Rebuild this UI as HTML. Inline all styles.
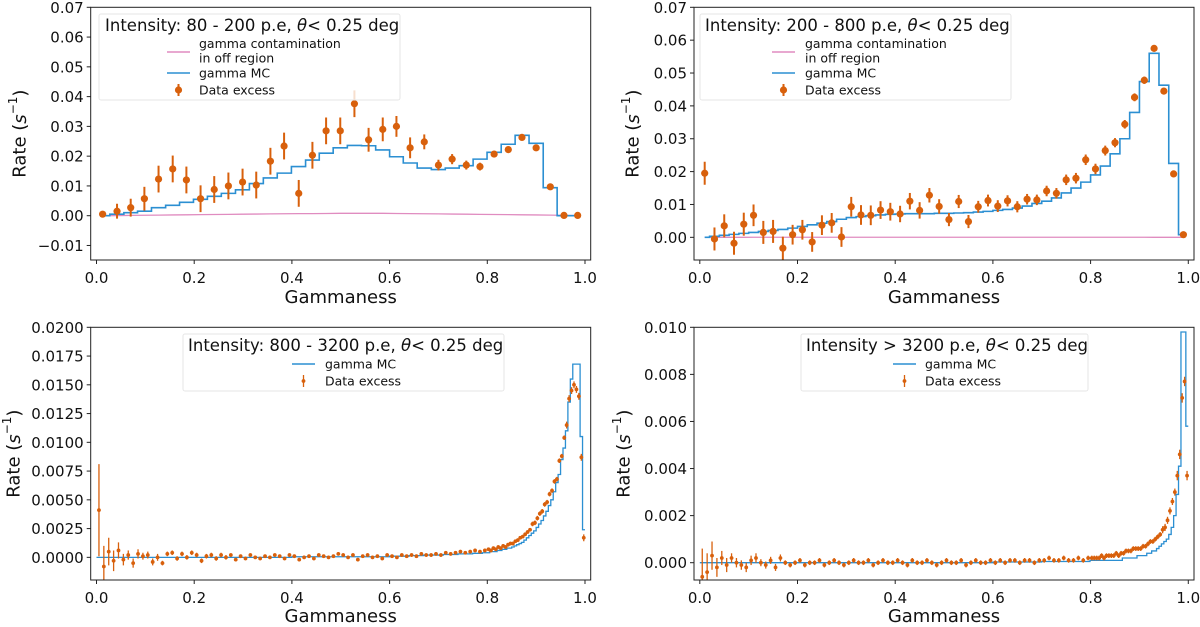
<!DOCTYPE html>
<html><head><meta charset="utf-8"><title>Gammaness distributions</title>
<style>
html,body{margin:0;padding:0;background:#fff;}
svg{display:block;font-family:"DejaVu Sans","Liberation Sans",sans-serif;}
</style></head>
<body>
<svg id="fig" width="1200" height="627" viewBox="0 0 1200 627" xmlns="http://www.w3.org/2000/svg"></svg>
<script>
// ---------- Panel 1 data (80-200 p.e) ----------
const p1X   = [0.0125,0.042,0.07,0.098,0.127,0.156,0.184,0.213,0.241,0.27,0.299,0.327,0.356,0.384,0.414,0.442,0.47,0.499,0.528,0.557,0.586,0.614,0.642,0.671,0.7,0.728,0.757,0.785,0.814,0.843,0.871,0.9,0.929,0.957,0.985];
const p1Rate= [0.0005,0.0015,0.0027,0.0057,0.0123,0.0157,0.012,0.0057,0.0088,0.010,0.0113,0.0103,0.0183,0.0234,0.0075,0.0203,0.0285,0.0285,0.0376,0.0255,0.029,0.030,0.0228,0.0248,0.017,0.019,0.017,0.0165,0.0207,0.0222,0.0263,0.0228,0.0097,0.0001,0.0001];
const p1Err = [0.0005,0.0025,0.003,0.004,0.0045,0.0045,0.0045,0.0045,0.0045,0.0045,0.0045,0.0045,0.0045,0.0045,0.0045,0.0045,0.0045,0.0045,0.0045,0.004,0.004,0.0035,0.0035,0.0025,0.0018,0.0017,0.0015,0.0013,0.001,0.0008,0.0007,0.0006,0.0005,0.0003,0.0003];
const p1MC  = [0.0,0.0005,0.001,0.0015,0.0027,0.0035,0.0045,0.0055,0.0065,0.0075,0.0087,0.0108,0.0127,0.0143,0.0165,0.0187,0.021,0.0228,0.0236,0.0235,0.0221,0.0198,0.0177,0.016,0.0155,0.016,0.0168,0.019,0.0213,0.024,0.027,0.0243,0.0094,0.0,0.0];
const p1Off = [0,0.00005,0.0001,0.00015,0.0002,0.00025,0.0003,0.00035,0.0004,0.00045,0.0005,0.00055,0.0006,0.00065,0.0007,0.0007,0.00075,0.0008,0.0008,0.0008,0.0008,0.00075,0.0007,0.00065,0.0006,0.00055,0.0005,0.00045,0.0004,0.00035,0.0003,0.00025,0.0002,0.0001,0.00005];
const p1YTicks = [-0.01,0,0.01,0.02,0.03,0.04,0.05,0.06,0.07];
const p1YLabels = ["\u22120.01","0.00","0.01","0.02","0.03","0.04","0.05","0.06","0.07"];

// ---------- Panel 2 data (200-800 p.e) ----------
const p2X   = [0.01,0.03,0.05,0.07,0.09,0.11,0.13,0.15,0.17,0.19,0.21,0.23,0.25,0.27,0.29,0.31,0.33,0.35,0.37,0.39,0.41,0.43,0.45,0.47,0.49,0.51,0.53,0.55,0.57,0.59,0.61,0.63,0.65,0.67,0.69,0.71,0.73,0.75,0.77,0.79,0.81,0.83,0.85,0.87,0.89,0.91,0.93,0.95,0.97,0.99];
const p2Rate= [0.0195,-0.0005,0.0035,-0.0018,0.004,0.0067,0.0015,0.0018,-0.0033,0.0008,0.0023,-0.0014,0.0037,0.0044,0.0001,0.0093,0.0068,0.0067,0.0083,0.0078,0.0071,0.011,0.0082,0.0128,0.0094,0.0054,0.0109,0.0048,0.0093,0.0112,0.0095,0.0111,0.0093,0.0116,0.0114,0.0141,0.0134,0.0175,0.018,0.0236,0.0208,0.0264,0.0288,0.0344,0.0426,0.0478,0.0575,0.0445,0.0193,0.0008];
const p2Err = [0.0035,0.0035,0.0035,0.0035,0.0035,0.0033,0.0035,0.0035,0.0035,0.003,0.003,0.003,0.003,0.003,0.003,0.003,0.003,0.003,0.0027,0.0027,0.0025,0.0025,0.0025,0.0022,0.0022,0.002,0.002,0.002,0.0018,0.0018,0.0018,0.0017,0.0017,0.0016,0.0016,0.0016,0.0016,0.0016,0.0016,0.0016,0.0016,0.0015,0.0014,0.0013,0.0012,0.0011,0.0009,0.0008,0.0005,0.0003];
const p2MC  = [0.0,0.0003,0.0006,0.0009,0.0012,0.0015,0.0018,0.0021,0.0024,0.0028,0.0033,0.0038,0.0043,0.0048,0.0055,0.006,0.0063,0.0066,0.0068,0.007,0.0071,0.0072,0.0072,0.0072,0.0073,0.0073,0.0074,0.0075,0.0077,0.0079,0.0082,0.0085,0.0089,0.0095,0.0103,0.011,0.012,0.0135,0.015,0.0168,0.019,0.0217,0.0254,0.03,0.038,0.0474,0.056,0.0463,0.0225,0.0008];
const p2Off = [0,0,0,0,0,0.00002,0.00002,0.00002,0.00002,0.00002,0.00003,0.00003,0.00003,0.00003,0.00003,0.00003,0.00003,0.00003,0.00003,0.00003,0.00003,0.00003,0.00003,0.00003,0.00003,0.00003,0.00003,0.00003,0.00003,0.00003,0.00003,0.00003,0.00003,0.00003,0.00003,0.00003,0.00003,0.00003,0.00003,0.00003,0.00002,0.00002,0.00002,0.00002,0.00002,0.00002,0.00001,0.00001,0,0];
const p2YTicks = [0,0.01,0.02,0.03,0.04,0.05,0.06,0.07];
const p2YLabels = ["0.00","0.01","0.02","0.03","0.04","0.05","0.06","0.07"];

// ---------- Panel 3 data (800-3200 p.e), rates in units of 1e-4 s^-1 ----------
const p3X = [0.005,0.015,0.025,0.035,0.045,0.055,0.065,0.075,0.085,0.095,0.105,0.115,0.125,0.135,0.145,0.155,0.165,0.175,0.185,0.195,0.205,0.215,0.225,0.235,0.245,0.255,0.265,0.275,0.285,0.295,0.305,0.315,0.325,0.335,0.345,0.355,0.365,0.375,0.385,0.395,0.405,0.415,0.425,0.435,0.445,0.455,0.465,0.475,0.485,0.495,0.505,0.515,0.525,0.535,0.545,0.555,0.565,0.575,0.585,0.595,0.605,0.615,0.625,0.635,0.645,0.655,0.665,0.675,0.685,0.695,0.705,0.715,0.725,0.735,0.745,0.755,0.765,0.775,0.785,0.795,
0.8025,0.8075,0.8125,0.8175,0.8225,0.8275,0.8325,0.8375,0.8425,0.8475,0.8525,0.8575,0.8625,0.8675,0.8725,0.8775,0.8825,0.8875,0.8925,0.8975,0.9025,0.9075,0.9125,0.9175,0.9225,0.9275,0.9325,0.9375,0.9425,0.9475,0.9525,0.9575,0.9625,0.9675,0.9725,0.9775,0.9825,0.9875,0.9925,0.9975];
const p3Rate = [41,-8,5,-3,6,-2,2,-5,3,1,2,-4,0,-5,3,4,-1,3,0,4,2,-3,1,2,-1,2,0,2,-2,1,-1,2,0,-1,1,0,2,1,-1,2,1,-2,0,1,-1,2,1,0,1,3,2,0,2,-2,1,2,0,1,-1,2,1,0,2,1,2,1,3,2,2,3,2,4,3,4,5,4,5,6,5,6,
7,6,8,7,9,8,10,9,11,12,12,14,15,17,18,20,22,24,29,30,34,38,40,46,48,55,58,66,68,84,88,104,115,138,145,150,146,140,87,17];
const p3Err = [40,18,12,9,7,5,4,4,4,3,3,3,3,2,2,2,2,2,2,2,2,2,2,2,2,2,2,1.5,1.5,1.5,1.5,1.5,1.5,1.5,1.5,1.5,1.5,1.5,1.5,1.5,1.5,1.5,1.5,1.5,1.5,1.5,1.5,1.5,1.5,1.5,1.5,1.5,1.5,1.5,1.5,1.5,1.5,1.5,1.5,1.5,1.5,1.5,1.5,1.5,1.5,1.5,1.5,1.5,1.5,1.5,1.5,1.5,1.5,1.5,1.5,1.5,1.5,1.5,1.5,1.5,
1.5,1.5,1.5,1.5,1.5,1.5,1.5,1.5,1.5,1.5,1.5,1.5,1.5,1.5,1.5,1.5,1.5,1.5,2,2,2,2,2,2,2,2,2,2,2,2,2,2,3,3,3,3,3,3,3,3];
const p3MC = [0,0,0,0,0,0,0,0,0,0,0,0,0,0,0,0,0,0,0,0,0,0,0,0,0,0,0,0,0,0,0,0,0,0,0,0,0,0,0,0,0.5,0.5,0.5,0.5,0.5,0.5,0.5,0.5,0.5,0.5,0.5,0.5,0.5,0.5,0.5,0.5,0.5,0.5,0.5,0.5,1,1,1,1,1.5,1.5,1.5,2,2,2,2,2.5,2.5,2.5,3,3,3,3.5,3.5,4,
4,5,5,5,6,6,7,7,8,8,9,10,11,12,13,15,17,19,21,23,26,29,32,36,40,45,50,57,65,72,85,95,110,135,155,168,168,168,105,24];
const p3YTicks = [0,0.0025,0.005,0.0075,0.01,0.0125,0.015,0.0175,0.02];
const p3YLabels = ["0.0000","0.0025","0.0050","0.0075","0.0100","0.0125","0.0150","0.0175","0.0200"];

// ---------- Panel 4 data (>3200 p.e), rates in units of 1e-4 s^-1 ----------
const p4X = p3X.slice();
const p4Rate = [-6,-4,3,-2,2,-1,2,0,-1,-2,1,2,0,-1,1,-2,2,0,-1,0,1,-1,0,0,1,-1,0,1,0,-1,0,1,0,0,1,-1,0,1,0,0,1,0,-1,1,0,0,1,0,-1,0,1,0,0,1,-1,0,1,0,0,1,0,1,0,1,1,0,1,1,0,1,1,2,1,1,2,1,1,2,1,2,
2,2,2,2,3,2,3,3,3,3,4,3,4,4,5,5,5,6,6,6,6,7,7,8,9,9,10,11,12,14,15,18,22,26,30,37,46,70,77,37];
const p4Err = [12,8,6,4,3,3,2,2,2,2,2,2,1.5,1.5,1.5,1.5,1.5,1,1,1,1,1,1,1,1,1,1,1,1,1,1,1,1,1,1,1,1,1,1,1,1,1,1,1,1,1,1,1,1,1,1,1,1,1,1,1,1,1,1,1,1,1,1,1,1,1,1,1,1,1,1,1,1,1,1,1,1,1,1,1,
1,1,1,1,1,1,1,1,1,1,1,1,1,1,1,1,1,1,1,1,1,1,1,1,1,1,1,1,1,1.5,1.5,1.5,1.5,1.5,1.5,2,2,2,2,2];
const p4MC = [0,0,0,0,0,0,0,0,0,0,0,0,0,0,0,0,0,0,0,0,0,0,0,0,0,0,0,0,0,0,0,0,0,0,0,0,0,0,0,0,0,0,0,0,0,0,0,0,0,0,0,0,0,0,0,0,0,0,0,0,0.3,0.3,0.3,0.3,0.3,0.3,0.3,0.3,0.3,0.3,0.5,0.5,0.5,0.5,0.5,0.5,0.5,0.5,0.5,0.5,
1,1,1,1,1,1,1,1,1,1,1,1,1,2,2,2,2,2,2,3,3,3,3,4,4,5,5,6,7,8,9,10,12,15,20,29,41,98,98,58];
const p4YTicks = [0,0.002,0.004,0.006,0.008,0.010];
const p4YLabels = ["0.000","0.002","0.004","0.006","0.008","0.010"];

const xTicks = [0,0.2,0.4,0.6,0.8,1.0];
const xTickLabels = ["0.0","0.2","0.4","0.6","0.8","1.0"];

// ---------- rendering ----------
const NS = 'http://www.w3.org/2000/svg';
const svg = document.getElementById('fig');
const ORANGE = '#d8600c', BLUE = '#2b8fd2', PINK = '#e08cc0';
function mk(tag, parent){ const e = document.createElementNS(NS, tag); parent.appendChild(e); return e; }
function fmtScale(arr, s){ return arr.map(v => v * s); }

const panels = [
  {id:'p1', L:90.7, R:590.7, T:7.3, B:260, ymin:-0.01488, ymax:0.07, x:p1X, rate:p1Rate, err:p1Err, mc:p1MC, off:p1Off, yt:p1YTicks, yl:p1YLabels, big:true, ylabX:20, xlabY:303, tickLabY:283},
  {id:'p2', L:694, R:1194, T:7.3, B:260, ymin:-0.0069, ymax:0.07, x:p2X, rate:p2Rate, err:p2Err, mc:p2MC, off:p2Off, yt:p2YTicks, yl:p2YLabels, big:true, ylabX:633, xlabY:303, tickLabY:283},
  {id:'p3', L:90.7, R:590.7, T:327.3, B:580, ymin:-0.00197, ymax:0.02, x:p3X, rate:fmtScale(p3Rate,1e-4), err:fmtScale(p3Err,1e-4), mc:fmtScale(p3MC,1e-4), off:null, yt:p3YTicks, yl:p3YLabels, big:false, ylabX:14, xlabY:622, tickLabY:603},
  {id:'p4', L:694, R:1194, T:327.3, B:580, ymin:-0.000735, ymax:0.010, x:p4X, rate:fmtScale(p4Rate,1e-4), err:fmtScale(p4Err,1e-4), mc:fmtScale(p4MC,1e-4), off:null, yt:p4YTicks, yl:p4YLabels, big:false, ylabX:624, xlabY:622, tickLabY:603}
];
const legends = [
  {title:['Intensity: 80 - 200 p.e, ','\u03b8','< 0.25 deg'], bx:99, by:14, bw:301, bh:86, tx:105, ty:31, hx:167, tx2:199, off:true, rows:[52,73,90]},
  {title:['Intensity: 200 - 800 p.e, ','\u03b8','< 0.25 deg'], bx:700, by:14, bw:311, bh:86, tx:705, ty:31, hx:772, tx2:805, off:true, rows:[52,73,90]},
  {title:['Intensity: 800 - 3200 p.e, ','\u03b8','< 0.25 deg'], bx:183, by:334, bw:321, bh:57, tx:188, ty:351, hx:292, tx2:325, off:false, rows:[0,364,381]},
  {title:['Intensity > 3200 p.e, ','\u03b8','< 0.25 deg'], bx:801, by:334, bw:287, bh:57, tx:806, ty:351, hx:893, tx2:925, off:false, rows:[0,364,381]}
];
const XMIN = -0.0119, XMAX = 1.0117;

panels.forEach((p, pi) => {
  const g = mk('g', svg);
  
  
  const xs = v => p.L + (v - XMIN) / (XMAX - XMIN) * (p.R - p.L);
  const ys = v => p.B - (v - p.ymin) / (p.ymax - p.ymin) * (p.B - p.T);

  const cp = mk('clipPath', g); cp.setAttribute('id', 'clip' + pi);
  const cr = mk('rect', cp);
  cr.setAttribute('x', p.L); cr.setAttribute('y', p.T); cr.setAttribute('width', p.R - p.L); cr.setAttribute('height', p.B - p.T);
  const plot = mk('g', g); plot.setAttribute('clip-path', 'url(#clip' + pi + ')');
  
  

  // off-region contamination line
  if (p.off) {
    const pl = mk('polyline', plot);
    pl.setAttribute('points', p.x.map((xv,i) => xs(xv).toFixed(2) + ',' + ys(p.off[i]).toFixed(2)).join(' '));
    pl.setAttribute('fill', 'none'); pl.setAttribute('stroke', PINK); pl.setAttribute('stroke-width', '1.3');
    
    
  }
  // MC step histogram
  let d = '';
  const n = p.x.length;
  for (let i = 0; i < n; i++) {
    const left = i === 0 ? (p.big ? p.x[0] : p.x[0] - (p.x[1]-p.x[0])/2) : (p.x[i-1] + p.x[i]) / 2;
    const right = i === n-1 ? (p.big ? p.x[i] : p.x[i] + (p.x[i]-p.x[i-1])/2) : (p.x[i] + p.x[i+1]) / 2;
    if (i === 0) d += 'M' + xs(left).toFixed(2) + ' ' + ys(p.mc[i]).toFixed(2);
    else d += 'V' + ys(p.mc[i]).toFixed(2);
    d += 'H' + xs(right).toFixed(2);
  }
  const mcp = mk('path', plot);
  mcp.setAttribute('d', d); mcp.setAttribute('fill', 'none'); mcp.setAttribute('stroke', BLUE); mcp.setAttribute('stroke-width', p.big ? '1.6' : '1.3');
  
  

  // data excess points
  for (let i = 0; i < n; i++) {
    const cx = xs(p.x[i]);
    const eb = mk('line', plot);
    eb.setAttribute('x1', cx); eb.setAttribute('x2', cx);
    eb.setAttribute('y1', ys(p.rate[i] - p.err[i])); eb.setAttribute('y2', ys(p.rate[i] + p.err[i]));
    eb.setAttribute('stroke', ORANGE); eb.setAttribute('stroke-width', p.big ? '2' : '1.3');
    
    
    const c = mk('circle', plot);
    c.setAttribute('cx', cx); c.setAttribute('cy', ys(p.rate[i])); c.setAttribute('r', p.big ? 3.6 : 1.9);
    c.setAttribute('fill', ORANGE);
    
    
  }

  // spines
  const fr = mk('rect', g);
  fr.setAttribute('x', p.L); fr.setAttribute('y', p.T); fr.setAttribute('width', p.R - p.L); fr.setAttribute('height', p.B - p.T);
  fr.setAttribute('fill', 'none'); fr.setAttribute('stroke', '#222'); fr.setAttribute('stroke-width', '1');
  
  

  // x ticks
  xTicks.forEach((t, i) => {
    const tx = xs(t);
    const tl = mk('line', g);
    tl.setAttribute('x1', tx); tl.setAttribute('x2', tx); tl.setAttribute('y1', p.B); tl.setAttribute('y2', p.B + 4);
    tl.setAttribute('stroke', '#222');
    
    
    const lab = mk('text', g);
    lab.setAttribute('x', tx); lab.setAttribute('y', p.tickLabY); lab.setAttribute('text-anchor', 'middle');
    lab.setAttribute('font-size', '15'); lab.setAttribute('fill', '#111');
    lab.textContent = xTickLabels[i];
    
    
  });
  // y ticks
  p.yt.forEach((t, i) => {
    const ty = ys(t);
    const tl = mk('line', g);
    tl.setAttribute('x1', p.L - 4); tl.setAttribute('x2', p.L); tl.setAttribute('y1', ty); tl.setAttribute('y2', ty);
    tl.setAttribute('stroke', '#222');
    
    
    const lab = mk('text', g);
    lab.setAttribute('x', p.L - 7); lab.setAttribute('y', ty + 5.5); lab.setAttribute('text-anchor', 'end');
    lab.setAttribute('font-size', '15'); lab.setAttribute('fill', '#111');
    lab.textContent = p.yl[i];
    
    
  });
  // axis titles
  const xl = mk('text', g);
  xl.setAttribute('x', (p.L + p.R) / 2); xl.setAttribute('y', p.xlabY); xl.setAttribute('text-anchor', 'middle');
  xl.setAttribute('font-size', '18'); xl.setAttribute('fill', '#111');
  xl.textContent = 'Gammaness';
  
  

  const yl = mk('text', g);
  const ycy = (p.T + p.B) / 2;
  yl.setAttribute('x', p.ylabX); yl.setAttribute('y', ycy); yl.setAttribute('text-anchor', 'middle');
  yl.setAttribute('font-size', '18'); yl.setAttribute('fill', '#111');
  yl.setAttribute('dominant-baseline', 'central');
  yl.setAttribute('transform', 'rotate(-90 ' + p.ylabX + ' ' + ycy + ')');
  yl.innerHTML = 'Rate (<tspan font-style="italic">s</tspan><tspan font-size="12" dy="-7">\u22121</tspan><tspan dy="7">)</tspan>';
  
  

  // legend
  const lg = legends[pi];
  const leg = mk('g', g);
  
  
  const lb = mk('rect', leg);
  lb.setAttribute('x', lg.bx); lb.setAttribute('y', lg.by); lb.setAttribute('width', lg.bw); lb.setAttribute('height', lg.bh);
  lb.setAttribute('rx', 2); lb.setAttribute('fill', '#fff'); lb.setAttribute('fill-opacity', '0.8'); lb.setAttribute('stroke', '#e6e6e6');
  
  
  const tt = mk('text', leg);
  tt.setAttribute('x', lg.tx); tt.setAttribute('y', lg.ty); tt.setAttribute('font-size', '16.5'); tt.setAttribute('fill', '#111');
  tt.innerHTML = lg.title[0] + '<tspan font-style="italic">' + lg.title[1] + '</tspan>' + lg.title[2];
  
  
  if (lg.off) {
    const h = mk('line', leg);
    h.setAttribute('x1', lg.hx); h.setAttribute('x2', lg.hx + 23); h.setAttribute('y1', lg.rows[0]); h.setAttribute('y2', lg.rows[0]);
    h.setAttribute('stroke', PINK); h.setAttribute('stroke-width', '1.5');
    
    
    const t = mk('text', leg);
    t.setAttribute('x', lg.tx2); t.setAttribute('y', lg.rows[0] - 4); t.setAttribute('font-size', '12.5'); t.setAttribute('fill', '#111');
    t.innerHTML = '<tspan>gamma contamination</tspan><tspan x="' + lg.tx2 + '" dy="14.5">in off region</tspan>';
    
    
  }
  const h2 = mk('line', leg);
  h2.setAttribute('x1', lg.hx); h2.setAttribute('x2', lg.hx + 23); h2.setAttribute('y1', lg.rows[1]); h2.setAttribute('y2', lg.rows[1]);
  h2.setAttribute('stroke', BLUE); h2.setAttribute('stroke-width', '1.5');
  
  
  const t2 = mk('text', leg);
  t2.setAttribute('x', lg.tx2); t2.setAttribute('y', lg.rows[1] + 4.5); t2.setAttribute('font-size', '12.5'); t2.setAttribute('fill', '#111');
  t2.textContent = 'gamma MC';
  
  
  const ex = lg.hx + 11.5;
  const h3 = mk('line', leg);
  h3.setAttribute('x1', ex); h3.setAttribute('x2', ex); h3.setAttribute('y1', lg.rows[2] - 6); h3.setAttribute('y2', lg.rows[2] + 6);
  h3.setAttribute('stroke', ORANGE); h3.setAttribute('stroke-width', p.big ? '2' : '1.3');
  
  
  const h3c = mk('circle', leg);
  h3c.setAttribute('cx', ex); h3c.setAttribute('cy', lg.rows[2]); h3c.setAttribute('r', p.big ? 3.6 : 1.9); h3c.setAttribute('fill', ORANGE);
  
  
  const t3 = mk('text', leg);
  t3.setAttribute('x', lg.tx2); t3.setAttribute('y', lg.rows[2] + 4.5); t3.setAttribute('font-size', '12.5'); t3.setAttribute('fill', '#111');
  t3.textContent = 'Data excess';
  
  
});
</script>
</body></html>
